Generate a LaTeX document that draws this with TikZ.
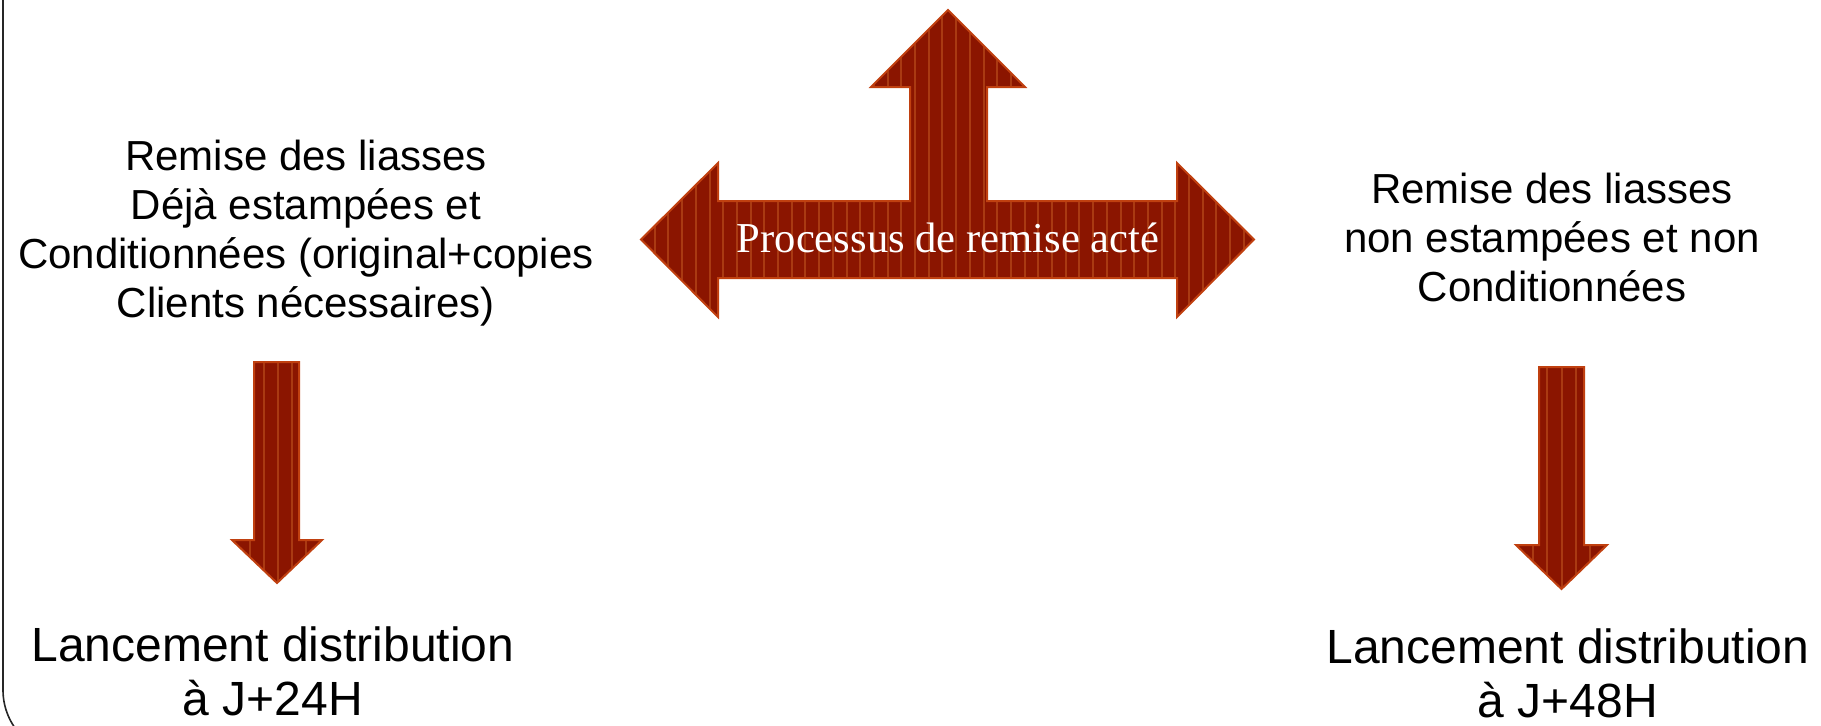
\documentclass[tikz,border=0pt]{standalone}
\usepackage{fontspec}
\setmainfont{Liberation Sans}
\newfontfamily\serifgar{Liberation Serif}
\definecolor{arrowred}{RGB}{139,21,0}
\definecolor{stripered}{RGB}{170,58,18}
\definecolor{edgered}{RGB}{192,64,16}
\begin{document}
\begin{tikzpicture}[x=0.5pt,y=-0.5pt,
  blockfill/.style={fill=arrowred},
  blockedge/.style={draw=edgered,line width=1pt,line join=miter},
  stripe/.style={draw=stripered,line width=1pt},
  txtblock/.style={font=\fontsize{21}{24.5}\selectfont,align=center,inner sep=0pt,text=black},
  bigtxt/.style={font=\fontsize{24}{27}\selectfont,align=center,inner sep=0pt,text=black},
  frameline/.style={draw=black!85,line width=0.8pt,rounded corners=33pt}]
\useasboundingbox (0,0) rectangle (1821,725);
% frame (only its left side shows)
\path[frameline] (3,-60) -- (3,756) -- (700,756);
% main three-way arrow
\def\mainarrow{(641,239.5) -- (718,163) -- (718,201) -- (910,201) -- (910,87) -- (871,87) -- (948,10) -- (1025,87) -- (987,87) -- (987,201) -- (1177,201) -- (1177,163) -- (1254,239.5) -- (1177,317) -- (1177,278) -- (718,278) -- (718,317) -- cycle}
\fill[blockfill] \mainarrow;
\begin{scope}
\clip \mainarrow;
\foreach \i in {0,...,45} \draw[stripe] ({641+13.7*\i},0) -- ({641+13.7*\i},330);
\end{scope}
\draw[blockedge] \mainarrow;
% left down arrow
\def\leftdown{(254,362) -- (299,362) -- (299,540) -- (322,540) -- (277,583) -- (232,540) -- (254,540) -- cycle}
\fill[blockfill] \leftdown;
\begin{scope}
\clip \leftdown;
\foreach \i in {0,...,5} \draw[stripe] ({250+14*\i},350) -- ({250+14*\i},600);
\end{scope}
\draw[blockedge] \leftdown;
% right down arrow
\def\rightdown{(1539,367) -- (1584,367) -- (1584,545) -- (1607,545) -- (1561.5,589) -- (1516,545) -- (1539,545) -- cycle}
\fill[blockfill] \rightdown;
\begin{scope}
\clip \rightdown;
\foreach \i in {0,...,5} \draw[stripe] ({1533+14.3*\i},350) -- ({1533+14.3*\i},600);
\end{scope}
\draw[blockedge] \rightdown;
% texts
\node[txtblock] (lefttop) at (306,233) {Remise des liasses\\Déjà estampées et\\Conditionnées (original+copies\\Clients nécessaires)};
\node[txtblock] (righttop) at (1552,237.5) {Remise des liasses\\non estampées et non\\Conditionnées};
\node[bigtxt] (leftbottom) at (273,671) {Lancement distribution\\à J+24H};
\node[bigtxt] (rightbottom) at (1568,673) {Lancement distribution\\à J+48H};
\node[font=\serifgar\fontsize{21.3}{24}\selectfont,text=white,anchor=base,inner sep=0pt] (process) at (948,252) {Processus de remise acté};
\end{tikzpicture}
\end{document}
